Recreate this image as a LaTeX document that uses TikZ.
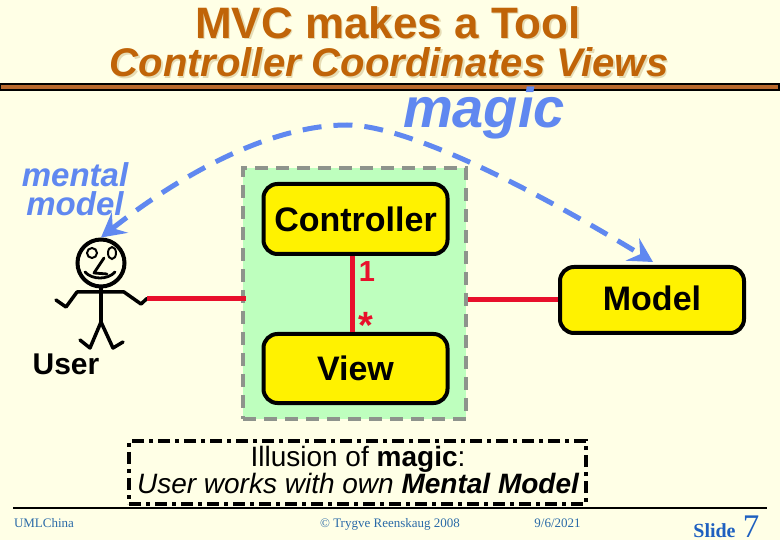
\documentclass[tikz,border=0pt]{standalone}
\usepackage{fontspec}
\setmainfont{Liberation Sans}
\newfontfamily\timesf{Liberation Serif}
\usetikzlibrary{arrows.meta,shapes.geometric}
\definecolor{bgc}{HTML}{FFFFE6}
\definecolor{titlec}{HTML}{C06408}
\definecolor{shadowc}{HTML}{E6DCB4}
\definecolor{rulec}{HTML}{B8682C}
\definecolor{bluec}{HTML}{6088F0}
\definecolor{greenc}{HTML}{BEFFBE}
\definecolor{grayc}{HTML}{8E948C}
\definecolor{redc}{HTML}{E8102C}
\definecolor{footc}{HTML}{2A6AA8}
\definecolor{slidec}{HTML}{1E60C0}
\newcommand{\fsz}[1]{\fontsize{#1}{#1}\selectfont}
\tikzset{
  x=1pt,y=-1pt,
  txt/.style={inner sep=0pt,outer sep=0pt,anchor=base},
  box/.style={draw=black,fill=yellow,line width=4pt,rounded corners=14pt,inner sep=0pt,
    minimum width=184pt,font=\fsz{34}\bfseries},
  assoc/.style={draw=redc,line width=5pt},
  magicarc/.style={draw=bluec,line width=5pt,dash pattern=on 19pt off 12pt,
    arrows={Stealth[length=24pt,width=26pt,inset=9pt]-Stealth[length=24pt,width=26pt,inset=9pt]}},
  stick/.style={draw=black,line width=3.5pt,line cap=round,line join=round},
  foot/.style={txt,font=\timesf\fsz{13},text=footc},
}
\begin{document}
\begin{tikzpicture}
\useasboundingbox (0,0) rectangle (780,540);
\fill[bgc] (0,0) rectangle (780,540);
% title
\node[txt,text=shadowc,font=\fsz{44}\bfseries] at (389.5,40) {MVC makes a Tool};
\node[txt,text=titlec,font=\fsz{44}\bfseries] (t1) at (388,38.5) {MVC makes a Tool};
\node[txt,text=shadowc,font=\fsz{40}\bfseries\itshape] at (390.5,78.5) {Controller Coordinates Views};
\node[txt,text=titlec,font=\fsz{40}\bfseries\itshape] (t2) at (389,77) {Controller Coordinates Views};
\draw[draw=black,fill=rulec,line width=2pt] (0,84) rectangle (779,90);
\node[txt,text=bluec,font=\fsz{56}\bfseries\itshape] (magic) at (484,128) {magic};
\node[txt,text=bluec,font=\fsz{33}\bfseries\itshape] (mental) at (75,187) {mental};
\node[txt,text=bluec,font=\fsz{33}\bfseries\itshape] (mmodel) at (75,216) {model};
% green container
\node[draw=grayc,fill=greenc,line width=4pt,dash pattern=on 13pt off 8pt,
  minimum width=223pt,minimum height=251pt,inner sep=0pt] (tool) at (354.5,293.5) {};
% boxes
\node[box,minimum height=70pt] (ctrl) at (355.5,219) {Controller};
\node[box,minimum height=69pt] (view) at (355.5,368.5) {View};
\node[box,minimum height=66pt] (model) at (652,300) {\raisebox{4pt}{Model}};
% stick figure
\node[circle,draw=black,line width=4pt,minimum size=47pt,inner sep=0pt] (head) at (101,263) {};
\node[circle,draw=black,line width=2pt,minimum size=10pt,inner sep=0pt] (eyel) at (92,253) {};
\node[ellipse,draw=black,line width=2pt,minimum width=8pt,minimum height=12pt,inner sep=0pt] (eyer) at (112,253) {};
\coordinate (hand) at (147,298.5);
\draw[stick,line width=2.8pt] (104,258) -- (94,273) -- (107,274);
\draw[stick,line width=2.8pt] (85,272) .. controls (92,280) and (108,280) .. (115,272);
\draw[stick] (head.south) -- (101,322);
\draw[stick] (56,300) -- (66,307) -- (77,292) -- (124,292) -- (141,304) -- (hand);
\draw[stick] (80,340) -- (90,348) -- (101,322) -- (113,348) -- (123,342);
\node[txt,font=\fsz{30}\bfseries] (user) at (66,374) {User};
% associations
\draw[assoc,shorten >=-5pt] (hand) -- (hand -| tool.west);
\draw[assoc] (model.west) -- (model.west -| tool.east);
\coordinate (vx) at (352,0);
\draw[assoc] (ctrl.south -| vx) -- (view.north -| vx);
\node[txt,text=redc,font=\fsz{29}\bfseries] (one) at (367,282) {1};
\node[txt,text=redc,font=\fsz{38}\bfseries] (many) at (366,339) {*};
% magic arc
\coordinate (apex) at (347,125);
\path[magicarc] (head.north) .. controls (180,175) and (270,125) .. (apex)
  .. controls (400,125) and (510,175) .. (653,262);
% note
\node[draw=black,line width=3.5pt,dash pattern=on 12pt off 5pt on 4pt off 5pt,
  minimum width=457pt,minimum height=63pt,inner sep=0pt] (note) at (357.5,472.5) {};
\node[txt,font=\fsz{28}] (n1) at (358,466) {Illusion of \textbf{magic}:};
\node[txt,font=\fsz{28}\itshape] (n2) at (358,493) {User works with own \textbf{Mental Model}};
% footer
\draw[black,line width=2pt] (13,508) -- (767,508);
\node[foot] (f1) at (44,527) {UMLChina};
\node[foot] (f2) at (390,527) {© Trygve Reenskaug 2008};
\node[foot] (f3) at (557.5,527) {9/6/2021};
\node[txt,font=\timesf\fsz{20}\bfseries,text=slidec] (slide) at (714.5,537) {Slide};
\node[txt,font=\timesf\fsz{33},text=slidec] (num) at (751,537) {7};
\end{tikzpicture}
\end{document}
